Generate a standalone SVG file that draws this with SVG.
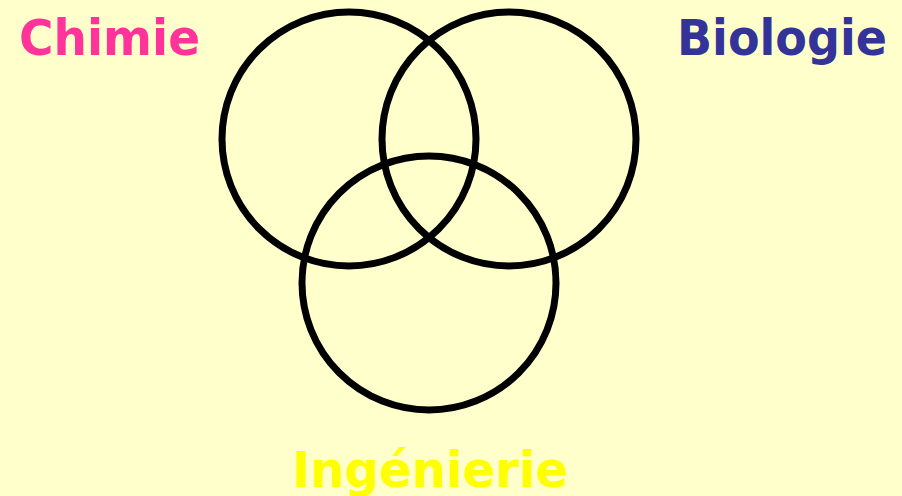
<svg xmlns="http://www.w3.org/2000/svg" width="902" height="496" viewBox="0 0 902 496">
<style>
.lbl{font-family:"DejaVu Sans",Verdana,sans-serif;font-weight:bold;font-size:50px}
.c{fill:none;stroke:#000;stroke-width:7}
</style>
<rect width="902" height="496" fill="#FFFFCC"/>
<g id="circles">
<circle id="chimie-circle" class="c" cx="349" cy="139" r="127"/>
<circle id="biologie-circle" class="c" cx="509" cy="139" r="127"/>
<circle id="ingenierie-circle" class="c" cx="429" cy="283" r="127"/>
</g>
<g id="chimie"><text class="lbl" x="19" y="55" fill="#FF3399" textLength="181" lengthAdjust="spacingAndGlyphs">Chimie</text></g>
<g id="biologie"><text class="lbl" x="677" y="55" fill="#333399" textLength="210" lengthAdjust="spacingAndGlyphs">Biologie</text></g>
<g id="ingenierie"><text class="lbl" x="292" y="487" fill="#FFFF00" textLength="276" lengthAdjust="spacingAndGlyphs">Ingénierie</text></g>
</svg>
